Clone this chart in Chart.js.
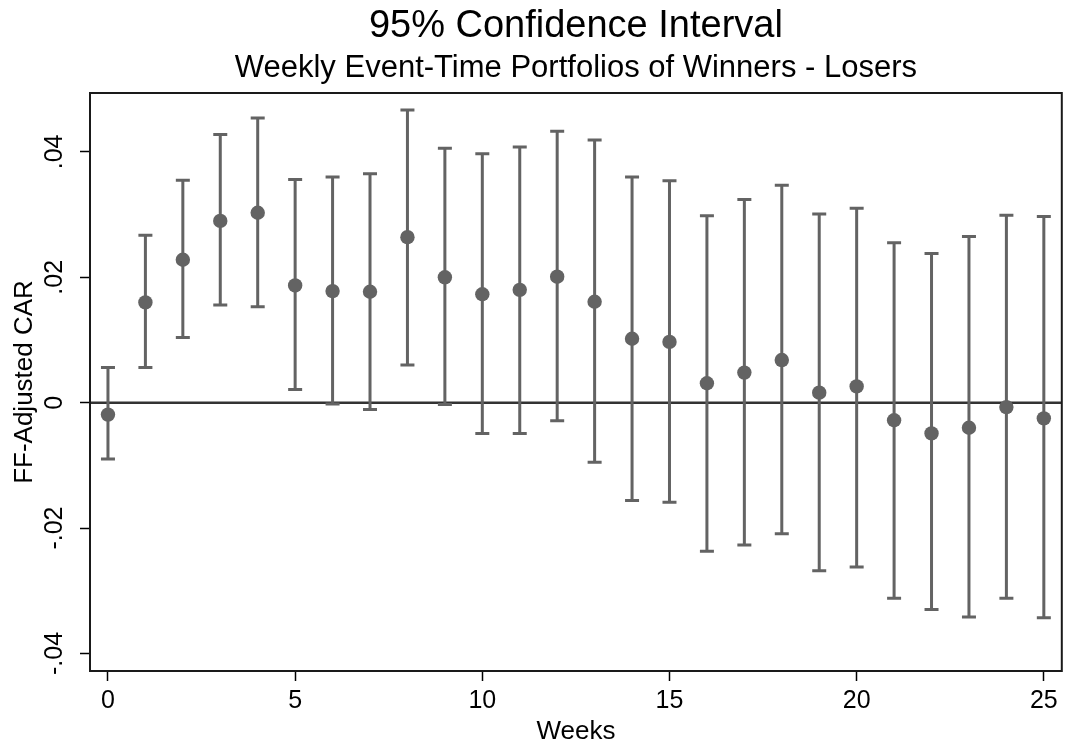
<!DOCTYPE html>
<html>
<head>
<meta charset="utf-8">
<title>95% Confidence Interval</title>
<script src="https://cdn.jsdelivr.net/npm/chart.js@4/dist/chart.umd.min.js"></script>
<style>
    body { margin: 0; background: #ffffff; }
    #wrap { width: 1069px; height: 748px; position: relative; }
</style>
</head>
<body>
<div id="wrap"><canvas id="ciChart"></canvas></div>
<script>
// Data
const weeks = [0, 1, 2, 3, 4, 5, 6, 7, 8, 9, 10, 11, 12, 13, 14, 15, 16, 17, 18, 19, 20, 21, 22, 23, 24, 25];
const car = [-0.0019, 0.0160, 0.0228, 0.0290, 0.0303, 0.0187, 0.0178, 0.0177, 0.0264, 0.0200, 0.0173, 0.0180, 0.0201,
    0.0161, 0.0102, 0.0097, 0.0031, 0.0048, 0.0068, 0.0016, 0.0026, -0.0028, -0.0049, -0.0040, -0.0007, -0.0025];
const upper = [0.0056, 0.0267, 0.0355, 0.0428, 0.0454, 0.0356, 0.0360, 0.0365, 0.0467, 0.0406, 0.0397, 0.0408, 0.0433,
    0.0419, 0.0360, 0.0354, 0.0298, 0.0324, 0.0347, 0.0301, 0.0310, 0.0255, 0.0238, 0.0265, 0.0299, 0.0297];
const lower = [-0.0090, 0.0056, 0.0104, 0.0156, 0.0153, 0.0021, -0.0002, -0.0011, 0.0060, -0.0003, -0.0049, -0.0049, -0.0029,
    -0.0095, -0.0156, -0.0159, -0.0237, -0.0227, -0.0209, -0.0268, -0.0262, -0.0312, -0.0330, -0.0342, -0.0312, -0.0343];
const xTicks = [0, 5, 10, 15, 20, 25];
const yTicks = [-0.04, -0.02, 0, 0.02, 0.04];

const FONT = "'Liberation Sans', Arial, sans-serif";
const GREY = '#636363';

// Stata style labels: .04, -.02, 0
function fmtY(v) {
    if (Math.abs(v) < 1e-9) return '0';
    return v.toFixed(2).replace(/^(-?)0\./, '$1.');
}

// Error bars, zero line, frame, rotated y labels
const stataPlugin = {
    id: 'stata',
    beforeDatasetsDraw(chart) {
        const { ctx, chartArea, scales: { x, y } } = chart;
        ctx.save();

        // zero line
        const y0 = y.getPixelForValue(0);
        ctx.strokeStyle = '#333333';
        ctx.lineWidth = 2.5;
        ctx.beginPath();
        ctx.moveTo(chartArea.left, y0);
        ctx.lineTo(chartArea.right, y0);
        ctx.stroke();

        // confidence intervals
        ctx.strokeStyle = GREY;
        ctx.lineWidth = 3;
        weeks.forEach((w, i) => {
            const px = x.getPixelForValue(w);
            const pHi = y.getPixelForValue(upper[i]);
            const pLo = y.getPixelForValue(lower[i]);
            ctx.beginPath();
            ctx.moveTo(px, pHi);
            ctx.lineTo(px, pLo);
            ctx.moveTo(px - 7, pHi);
            ctx.lineTo(px + 7, pHi);
            ctx.moveTo(px - 7, pLo);
            ctx.lineTo(px + 7, pLo);
            ctx.stroke();
        });
        ctx.restore();
    },
    afterDraw(chart) {
        const { ctx, chartArea, scales: { y } } = chart;
        ctx.save();

        // plot frame
        ctx.strokeStyle = '#1a1a1a';
        ctx.lineWidth = 2;
        ctx.strokeRect(chartArea.left, chartArea.top, chartArea.right - chartArea.left, chartArea.bottom - chartArea.top);

        // vertical y tick labels
        ctx.fillStyle = '#000000';
        ctx.font = '25px ' + FONT;
        ctx.textAlign = 'center';
        ctx.textBaseline = 'middle';
        y.ticks.forEach(t => {
            ctx.save();
            ctx.translate(chartArea.left - 35, y.getPixelForValue(t.value));
            ctx.rotate(-Math.PI / 2);
            ctx.fillText(fmtY(t.value), 0, 0);
            ctx.restore();
        });
        ctx.restore();
    }
};

// Render chart
const chart = new Chart(document.getElementById('ciChart').getContext('2d'), {
    type: 'scatter',
    data: {
        datasets: [{
            label: 'FF-Adjusted CAR',
            data: weeks.map((w, i) => ({ x: w, y: car[i] })),
            backgroundColor: GREY,
            borderColor: GREY,
            pointRadius: 7.2,
            pointHoverRadius: 7.2,
            borderWidth: 0
        }]
    },
    options: {
        responsive: true,
        maintainAspectRatio: false,
        animation: false,
        layout: {
            padding: { left: 0, right: 3, top: 0, bottom: 0 }
        },
        plugins: {
            legend: { display: false },
            tooltip: { enabled: false },
            title: {
                display: true,
                fullSize: false,
                text: '95% Confidence Interval',
                color: '#000000',
                font: { family: FONT, size: 38, weight: 'normal', lineHeight: 1.2 },
                padding: { top: 4, bottom: 0 }
            },
            subtitle: {
                display: true,
                fullSize: false,
                text: 'Weekly Event-Time Portfolios of Winners - Losers',
                color: '#000000',
                font: { family: FONT, size: 31, weight: 'normal', lineHeight: 1.2 },
                padding: { top: 0, bottom: 6.2 }
            }
        },
        scales: {
            x: {
                type: 'linear',
                min: -0.48,
                max: 25.48,
                afterBuildTicks: scale => { scale.ticks = xTicks.map(v => ({ value: v })); },
                afterFit: scale => { scale.height = 77; },
                border: { display: true, color: '#000000', width: 2 },
                grid: { drawOnChartArea: false, drawTicks: true, tickLength: 10, tickColor: '#000000', tickWidth: 1.5 },
                ticks: {
                    color: '#000000',
                    font: { family: FONT, size: 25 },
                    padding: 5,
                    maxRotation: 0,
                    callback: v => String(v)
                },
                title: {
                    display: true,
                    text: 'Weeks',
                    color: '#000000',
                    font: { family: FONT, size: 26, lineHeight: 1.2 },
                    padding: { top: 0, bottom: 1 }
                }
            },
            y: {
                min: -0.0428,
                max: 0.0494,
                afterBuildTicks: scale => { scale.ticks = yTicks.map(v => ({ value: v })); },
                afterFit: scale => { scale.width = 90; },
                border: { display: true, color: '#000000', width: 2 },
                grid: { drawOnChartArea: false, drawTicks: true, tickLength: 10, tickColor: '#000000', tickWidth: 1.5 },
                ticks: {
                    color: 'rgba(0,0,0,0)',
                    font: { family: FONT, size: 25 },
                    callback: v => fmtY(v)
                },
                title: {
                    display: true,
                    text: 'FF-Adjusted CAR',
                    color: '#000000',
                    font: { family: FONT, size: 26, lineHeight: 1.2 },
                    padding: { top: 9, bottom: 0 }
                }
            }
        }
    },
    plugins: [stataPlugin]
});
</script>
</body>
</html>
